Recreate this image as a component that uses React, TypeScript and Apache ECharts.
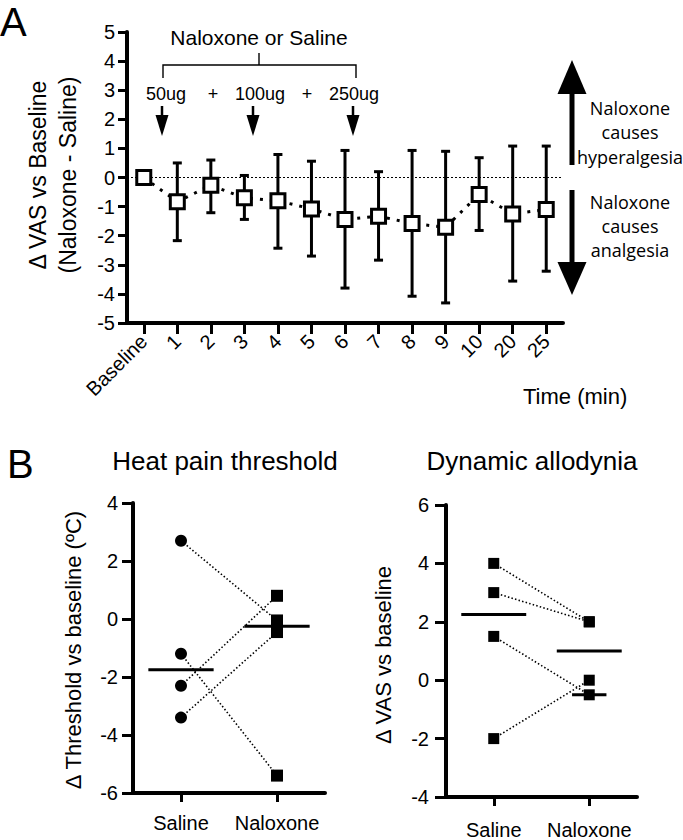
import React, { useEffect, useRef } from 'react';
import * as echarts from 'echarts';

// ---------- Data ----------
const timeLabels = ['Baseline', '1', '2', '3', '4', '5', '6', '7', '8', '9', '10', '20', '25'];
const vasDiffMean = [0, -0.83, -0.27, -0.7, -0.8, -1.08, -1.44, -1.33, -1.58, -1.71, -0.58, -1.25, -1.1];
const vasDiffUpper = [0, 0.5, 0.6, 0.07, 0.79, 0.56, 0.93, 0.2, 0.93, 0.9, 0.68, 1.08, 1.08];
const vasDiffLower = [0, -2.17, -1.21, -1.44, -2.43, -2.7, -3.8, -2.84, -4.08, -4.31, -1.82, -3.56, -3.22];

const groupLabels = ['Saline', 'Naloxone'];
const heatSaline = [2.7, -1.2, -2.3, -3.4];
const heatNaloxone = [-0.05, -5.4, 0.8, -0.45];
const heatMedians = [-1.75, -0.25];

const allodyniaSaline = [4, 3, 1.5, -2];
const allodyniaNaloxone = [2, 2, -0.5, 0];
const allodyniaMedians = [2.25, 1];
const allodyniaNaloxoneShortBar = [-0.5];

const FONT = '"Liberation Sans", Arial, sans-serif';
const FONT2 = '"Open Sans", sans-serif';

function txt(text: string, x: number, y: number, size: number, opts: any = {}) {
  return {
    type: 'text',
    x,
    y,
    rotation: opts.rotation || 0,
    style: {
      text,
      font: `${size}px ${opts.font || FONT}`,
      fill: '#000',
      align: opts.align || 'center',
      verticalAlign: 'middle',
    },
  };
}

function line(x1: number, y1: number, x2: number, y2: number, w: number) {
  return { type: 'line', shape: { x1, y1, x2, y2 }, style: { stroke: '#000', lineWidth: w } };
}

function tri(points: number[][]) {
  return { type: 'polygon', shape: { points }, style: { fill: '#000' } };
}

function downArrow(x: number, top: number, base: number, tip: number, w: number, shaft: number) {
  return [line(x, top, x, base + 1, shaft), tri([[x - w / 2, base], [x + w / 2, base], [x, tip]])];
}

function upArrow(x: number, bottom: number, base: number, tip: number, w: number, shaft: number) {
  return [line(x, bottom, x, base - 1, shaft), tri([[x - w / 2, base], [x + w / 2, base], [x, tip]])];
}

function axisCommon(extra: any, tickLen: number) {
  return {
    axisLine: { show: true, onZero: false, lineStyle: { color: '#000', width: 4, opacity: 1 } },
    axisTick: { show: true, inside: false, alignWithLabel: true, length: tickLen, lineStyle: { color: '#000', width: 3, opacity: 1 } },
    splitLine: { show: false },
    ...extra,
  };
}

export default function App() {
  const ref = useRef<HTMLDivElement>(null);

  useEffect(() => {
    document.body.style.margin = '0';
    if (!ref.current) return;
    const chart = echarts.init(ref.current, null, { renderer: 'svg' });

    const errData = timeLabels
      .map((_, i) => [i, vasDiffLower[i], vasDiffUpper[i]])
      .filter((d) => d[1] !== d[2]);

    const pairSeries = (sal: number[], nal: number[], axis: number) =>
      sal.map((v, i) => ({
        type: 'line',
        xAxisIndex: axis,
        yAxisIndex: axis,
        data: [[0, v], [1, nal[i]]],
        symbol: 'none',
        z: 1,
        lineStyle: { color: '#000', width: 1.6, type: [1.5, 2.2] },
        silent: true,
      }));

    const medianSeries = (vals: number[][], axis: number, frac: number) => ({
      type: 'custom',
      xAxisIndex: axis,
      yAxisIndex: axis,
      z: 2,
      data: vals,
      encode: { x: 0, y: 1 },
      renderItem: (params: any, api: any) => {
        const p = api.coord([api.value(0), api.value(1)]);
        const half = api.size([1, 0])[0] * frac;
        return {
          type: 'line',
          shape: { x1: p[0] - half, y1: p[1], x2: p[0] + half, y2: p[1] },
          style: { stroke: '#000', lineWidth: 3 },
        };
      },
    });

    const dots = (axis: number, vals: number[], cat: number, symbol: string, size: number) => ({
      type: 'scatter',
      xAxisIndex: axis,
      yAxisIndex: axis,
      z: 3,
      symbol,
      symbolSize: size,
      itemStyle: { color: '#000', opacity: 1 },
      data: vals.map((v) => [cat, v]),
    });

    const option: any = {
      animation: false,
      textStyle: { fontFamily: FONT },
      grid: [
        { left: 127, top: 32, width: 436, height: 291 },
        { left: 133, top: 503, width: 192, height: 290 },
        { left: 446, top: 505, width: 191, height: 292 },
      ],
      xAxis: [
        axisCommon({
          type: 'category',
          gridIndex: 0,
          data: timeLabels,
          boundaryGap: true,
          axisLabel: { rotate: 45, fontSize: 20, color: '#000', margin: 15, interval: 0, fontFamily: FONT },
        }, 11),
        axisCommon({
          type: 'category',
          gridIndex: 1,
          data: groupLabels,
          axisLabel: { fontSize: 20, color: '#000', margin: 20, interval: 0, hideOverlap: false, fontFamily: FONT },
        }, 9),
        axisCommon({
          type: 'category',
          gridIndex: 2,
          data: groupLabels,
          axisLabel: { fontSize: 20, color: '#000', margin: 23, interval: 0, hideOverlap: false, fontFamily: FONT },
        }, 9),
      ],
      yAxis: [
        axisCommon({
          type: 'value',
          gridIndex: 0,
          min: -5,
          max: 5,
          interval: 1,
          axisLabel: { fontSize: 20, color: '#000', margin: 12, fontFamily: FONT },
        }, 9),
        axisCommon({
          type: 'value',
          gridIndex: 1,
          min: -6,
          max: 4,
          interval: 2,
          axisLabel: { fontSize: 20, color: '#000', margin: 15, fontFamily: FONT },
        }, 11),
        axisCommon({
          type: 'value',
          gridIndex: 2,
          min: -4,
          max: 6,
          interval: 2,
          axisLabel: { fontSize: 20, color: '#000', margin: 17, fontFamily: FONT },
        }, 11),
      ],
      series: [
        {
          type: 'custom',
          xAxisIndex: 0,
          yAxisIndex: 0,
          z: 1,
          data: errData,
          encode: { x: 0, y: [1, 2] },
          renderItem: (params: any, api: any) => {
            const x = api.value(0);
            const lo = api.coord([x, api.value(1)]);
            const hi = api.coord([x, api.value(2)]);
            const cap = 4.5;
            const st = { stroke: '#000', lineWidth: 3 };
            return {
              type: 'group',
              children: [
                { type: 'line', shape: { x1: lo[0], y1: lo[1], x2: hi[0], y2: hi[1] }, style: st },
                { type: 'line', shape: { x1: lo[0] - cap, y1: lo[1], x2: lo[0] + cap, y2: lo[1] }, style: st },
                { type: 'line', shape: { x1: hi[0] - cap, y1: hi[1], x2: hi[0] + cap, y2: hi[1] }, style: st },
              ],
            };
          },
        },
        {
          type: 'line',
          xAxisIndex: 0,
          yAxisIndex: 0,
          z: 3,
          data: vasDiffMean,
          symbol: 'rect',
          symbolSize: 14,
          showAllSymbol: true,
          itemStyle: { color: '#fff', borderColor: '#000', borderWidth: 3, opacity: 1 },
          lineStyle: { color: '#000', width: 3, type: [3, 7] },
          markLine: {
            silent: true,
            symbol: 'none',
            label: { show: false },
            lineStyle: { color: '#000', width: 1.2, type: [2, 2] },
            data: [{ yAxis: 0 }],
            z: 0,
          },
        },
        ...pairSeries(heatSaline, heatNaloxone, 1),
        medianSeries(heatMedians.map((v, i) => [i, v]), 1, 0.34),
        dots(1, heatSaline, 0, 'circle', 12),
        dots(1, heatNaloxone, 1, 'rect', 12),
        ...pairSeries(allodyniaSaline, allodyniaNaloxone, 2),
        medianSeries(allodyniaMedians.map((v, i) => [i, v]), 2, 0.34),
        medianSeries(allodyniaNaloxoneShortBar.map((v) => [1, v]), 2, 0.18),
        dots(2, allodyniaSaline, 0, 'rect', 11),
        dots(2, allodyniaNaloxone, 1, 'rect', 11),
      ],
      graphic: [
        txt('A', 0, 22, 40, { align: 'left' }),
        txt('B', 7, 464, 40, { align: 'left' }),
        txt('Δ VAS vs Baseline', 38, 175, 23, { rotation: Math.PI / 2 }),
        txt('(Naloxone - Saline)', 68, 175, 23, { rotation: Math.PI / 2 }),
        txt('Naloxone or Saline', 259, 37, 21),
        { type: 'polyline', shape: { points: [[163, 78], [163, 65], [356, 65], [356, 78]] }, style: { stroke: '#000', lineWidth: 1.4, fill: null } },
        line(259, 65, 259, 53, 1.4),
        txt('50ug', 166, 94, 18),
        txt('+', 213, 94, 18),
        txt('100ug', 260, 94, 18),
        txt('+', 307, 94, 18),
        txt('250ug', 354, 94, 18),
        ...downArrow(162, 106, 115, 136, 13, 2.5),
        ...downArrow(253, 106, 115, 136, 13, 2.5),
        ...downArrow(353, 106, 115, 136, 13, 2.5),
        ...upArrow(572, 165, 94, 60, 29, 5),
        ...downArrow(572, 190, 262, 295, 29, 5),
        txt('Naloxone', 630, 108, 18, { font: FONT2 }),
        txt('causes', 630, 132, 18, { font: FONT2 }),
        txt('hyperalgesia', 630, 157, 18, { font: FONT2 }),
        txt('Naloxone', 630, 202, 18, { font: FONT2 }),
        txt('causes', 630, 226, 18, { font: FONT2 }),
        txt('analgesia', 630, 250, 18, { font: FONT2 }),
        txt('Time (min)', 523, 396, 22, { align: 'left' }),
        txt('Heat pain threshold', 225, 461, 26),
        txt('Dynamic allodynia', 532, 461, 26),
        txt('Δ Threshold vs baseline (ºC)', 73, 650, 22, { rotation: Math.PI / 2 }),
        txt('Δ VAS vs baseline', 383, 655, 22, { rotation: Math.PI / 2 }),
      ],
    };

    chart.setOption(option);
    return () => chart.dispose();
  }, []);

  return <div ref={ref} style={{ width: 683, height: 840 }} />;
}
